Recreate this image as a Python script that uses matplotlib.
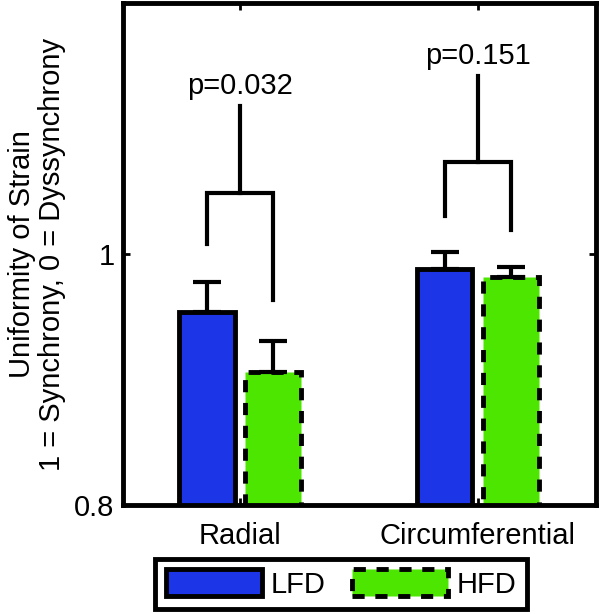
import matplotlib.pyplot as plt
import numpy as np

plt.rcParams['font.family'] = ['Liberation Sans', 'DejaVu Sans']

# Data
categories = ["Radial", "Circumferential"]
lfd_mean = [0.954, 0.988]
lfd_err = [0.024, 0.014]
hfd_mean = [0.906, 0.982]
hfd_err = [0.025, 0.008]
p_values = ["p=0.032", "p=0.151"]
# bracket heights: (left leg bottom, right leg bottom, bar height, top of stem)
brackets = [(1.008, 0.963, 1.049, 1.118),
            (1.030, 1.019, 1.073, 1.142)]

blue = "#1c35e6"
green = "#4ce600"
fs = 21

fig = plt.figure(figsize=(6, 6.14), dpi=100)
ax = fig.add_axes([0.205, 0.1775, 0.788, 0.8175])

x = np.arange(1, len(categories) + 1)
off = 0.14
w = 0.235

b1 = ax.bar(x - off, lfd_mean, w, color=blue, edgecolor="black", linewidth=3.5,
            label="LFD", zorder=2)
b2 = ax.bar(x + off, hfd_mean, w, color=green, edgecolor="black", linewidth=3.5,
            linestyle=(0, (2.5, 2.2)), label="HFD", zorder=2)

ax.errorbar(x - off, lfd_mean, yerr=[np.zeros(2), lfd_err], fmt="none",
            ecolor="black", elinewidth=3, capsize=10, capthick=3, zorder=3)
ax.errorbar(x + off, hfd_mean, yerr=[np.zeros(2), hfd_err], fmt="none",
            ecolor="black", elinewidth=3, capsize=10, capthick=3, zorder=3)

# significance brackets
for xi, (l0, r0, top, stem), p in zip(x, brackets, p_values):
    ax.plot([xi - off, xi - off, xi + off, xi + off], [l0, top, top, r0],
            color="black", lw=3, solid_joinstyle="miter")
    ax.plot([xi, xi], [top, stem], color="black", lw=3)
    ax.text(xi, stem + 0.005, p, ha="center", va="bottom", fontsize=fs)

ax.set_xlim(0.508, 2.496)
ax.set_ylim(0.8, 1.2)
ax.set_xticks(x)
ax.set_xticklabels(categories, fontsize=fs)
ax.set_yticks([0.8, 1.0])
ax.set_yticklabels(["0.8", "1"], fontsize=fs)
ax.tick_params(direction="in", length=5, width=2, top=True, right=True, pad=6)
ax.tick_params(axis="x", pad=12)
for s in ax.spines.values():
    s.set_linewidth(3.5)

ax.set_ylabel("Uniformity of Strain\n1 = Synchrony, 0 = Dyssynchrony",
              fontsize=fs, linespacing=1.1, labelpad=6)

leg = fig.legend(handles=[b1, b2], labels=["LFD", "HFD"], loc="center",
                 bbox_to_anchor=(341 / 600, 1 - 584 / 614), ncol=2,
                 fontsize=fs, frameon=True, fancybox=False, framealpha=1,
                 handlelength=3.3, handleheight=1.05, handletextpad=0.3,
                 columnspacing=0.9, borderpad=0.35, edgecolor="black")
leg.get_frame().set_linewidth(3.5)

fig.savefig("out.png", dpi=100)
